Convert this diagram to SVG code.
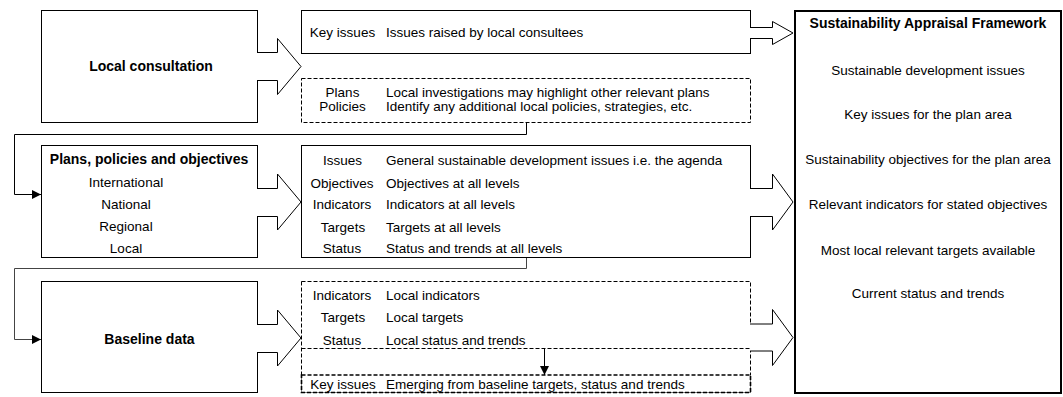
<svg xmlns="http://www.w3.org/2000/svg" width="1063" height="397" viewBox="0 0 1063 397">
  <defs>
    <style>
      .box { fill: #fff; stroke: #000; stroke-width: 1; }
      .dash { fill: #fff; stroke: #000; stroke-width: 1; stroke-dasharray: 4 2; }
      .dline { fill: none; stroke: #000; stroke-width: 1; stroke-dasharray: 4 2; }
      .frame { fill: #fff; stroke: #000; stroke-width: 2; }
      .block { fill: #fff; stroke: #000; stroke-width: 1; stroke-linejoin: miter; }
      .link { fill: none; stroke: #000; stroke-width: 1; }
      .link2 { fill: none; stroke: #444; stroke-width: 1; }
      text { font-family: "Liberation Sans", Arial, Helvetica, sans-serif; font-size: 13.5px; fill: #000; }
      .b { font-weight: bold; font-size: 14px; }
      .c { text-anchor: middle; }
    </style>
    <marker id="tri" viewBox="0 0 10 10" refX="10" refY="5" markerWidth="9" markerHeight="9" markerUnits="userSpaceOnUse" orient="auto">
      <path d="M0,0 L10,5 L0,10 z" fill="#000"/>
    </marker>
  </defs>

  <!-- Left column: sources -->
  <g id="local-consultation">
    <rect class="box" x="41.5" y="10.5" width="216" height="112"/>
    <text class="b c" x="151" y="71">Local consultation</text>
  </g>

  <g id="plans-policies">
    <rect class="box" x="41.5" y="145.5" width="216" height="112"/>
    <text class="b c" x="149" y="163.5">Plans, policies and objectives</text>
    <text class="c" x="126" y="186.5">International</text>
    <text class="c" x="126" y="208.5">National</text>
    <text class="c" x="126" y="231">Regional</text>
    <text class="c" x="126" y="253">Local</text>
  </g>

  <g id="baseline-data">
    <rect class="box" x="41.5" y="281.5" width="216" height="111"/>
    <text class="b c" x="149.5" y="344">Baseline data</text>
  </g>

  <!-- Middle column: what each source yields -->
  <g id="key-issues-consultees">
    <rect class="box" x="301.5" y="10.5" width="449" height="43"/>
    <text class="c" x="342.5" y="37">Key issues</text>
    <text x="386" y="37">Issues raised by local consultees</text>
  </g>

  <g id="local-plans-policies">
    <rect class="dash" x="301.5" y="78.5" width="449" height="44"/>
    <text class="c" x="342.5" y="96.5">Plans</text>
    <text x="386" y="96.5">Local investigations may highlight other relevant plans</text>
    <text class="c" x="342.5" y="111">Policies</text>
    <text x="386" y="111">Identify any additional local policies, strategies, etc.</text>
  </g>

  <g id="issues-objectives">
    <rect class="box" x="301.5" y="145.5" width="449" height="112"/>
    <text class="c" x="342.5" y="165">Issues</text>
    <text x="386" y="165">General sustainable development issues i.e. the agenda</text>
    <text class="c" x="342" y="187.5">Objectives</text>
    <text x="386" y="187.5">Objectives at all levels</text>
    <text class="c" x="342" y="209">Indicators</text>
    <text x="386" y="209">Indicators at all levels</text>
    <text class="c" x="343" y="231.5">Targets</text>
    <text x="386" y="231.5">Targets at all levels</text>
    <text class="c" x="342" y="253">Status</text>
    <text x="386" y="253">Status and trends at all levels</text>
  </g>

  <g id="local-baseline">
    <rect class="dash" x="301.5" y="281.5" width="449" height="111"/>
    <line class="dline" x1="301.5" y1="348.5" x2="750.5" y2="348.5"/>
    <rect class="dash" x="301.5" y="375" width="449" height="17.5" style="stroke-width:1.6"/>
    <text class="c" x="342" y="300">Indicators</text>
    <text x="386" y="300">Local indicators</text>
    <text class="c" x="343" y="322">Targets</text>
    <text x="386" y="322">Local targets</text>
    <text class="c" x="342" y="344.5">Status</text>
    <text x="386" y="344.5">Local status and trends</text>
    <text class="c" x="343" y="389">Key issues</text>
    <text x="386" y="389">Emerging from baseline targets, status and trends</text>
  </g>

  <!-- Right column: the framework -->
  <g id="framework">
    <rect class="frame" x="795" y="11" width="266" height="382"/>
    <text class="b c" x="928" y="28">Sustainability Appraisal Framework</text>
    <text class="c" x="928" y="74.5">Sustainable development issues</text>
    <text class="c" x="928" y="119">Key issues for the plan area</text>
    <text class="c" x="928" y="164">Sustainability objectives for the plan area</text>
    <text class="c" x="928" y="209">Relevant indicators for stated objectives</text>
    <text class="c" x="928" y="254.5">Most local relevant targets available</text>
    <text class="c" x="928" y="298">Current status and trends</text>
  </g>

  <!-- Connectors -->
  <g id="connectors">
    <!-- block arrows, sources to middle column -->
    <path class="block" d="M257,52.5 H277.5 V38.5 L301,66.5 L277.5,94.5 V80.5 H257"/>
    <path class="block" d="M257,188.5 H277.5 V174 L301,202 L277.5,230 V216.5 H257"/>
    <path class="block" d="M257,324.5 H277.5 V310 L301,338 L277.5,366 V352.5 H257"/>

    <!-- block arrows, middle column to framework -->
    <path class="block" d="M750,27.5 H772.5 V21.5 L793,33 L772.5,44.5 V38.5 H750"/>
    <path class="block" d="M750,188.5 H772.5 V174 L793,202 L772.5,230 V216.5 H750"/>
    <path class="block" d="M750,324 H772.5 V309.5 L793,337.5 L772.5,365.5 V351 H750"/>

    <!-- feedback: local findings into plans review -->
    <path class="link" d="M526.5,123 V134.5 H14.5 V194.5 H41" marker-end="url(#tri)"/>
    <!-- feedback: plan-level findings into baseline -->
    <path class="link2" d="M526.5,258 V268.5 H14.5 V339.5 H41" marker-end="url(#tri)"/>

    <!-- baseline findings into key issues -->
    <line class="link" x1="544.5" y1="349" x2="544.5" y2="375" marker-end="url(#tri)"/>
  </g>
</svg>
